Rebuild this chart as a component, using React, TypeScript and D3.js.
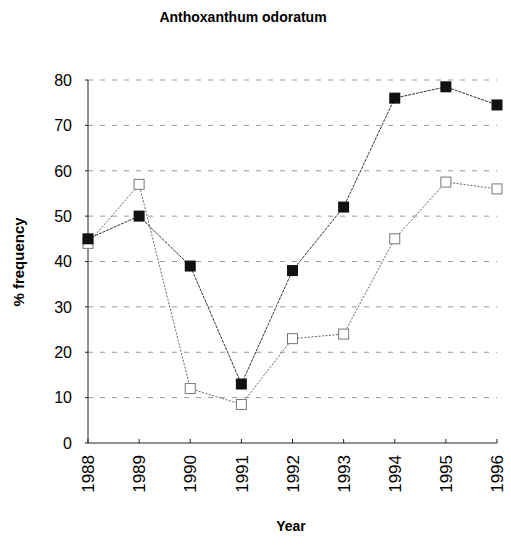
import * as d3 from 'd3'

// data
const years = [1988, 1989, 1990, 1991, 1992, 1993, 1994, 1995, 1996]
const filledSeries = [45, 50, 39, 13, 38, 52, 76, 78.5, 74.5]
const openSeries = [44, 57, 12, 8.5, 23, 24, 45, 57.5, 56]
const yTicks = [0, 10, 20, 30, 40, 50, 60, 70, 80]

const width = 511,
    height = 546
const margin = { top: 80, right: 14, bottom: 103, left: 88 }

export default function App() {
    const x = d3.scaleLinear()
        .domain([1988, 1996])
        .range([margin.left, width - margin.right])
    const y = d3.scaleLinear()
        .domain([0, 80])
        .range([height - margin.bottom, margin.top])

    const line = d3.line<number>()
        .x((d, i) => x(years[i]))
        .y(d => y(d))

    const font = 'Liberation Sans, Arial, sans-serif'
    const ms = 11 // marker size

    return (
        <svg width={width} height={height} style={{ position: 'absolute', left: 0, top: 0, background: '#fff' }}>
            {/* title */}
            <text x={243} y={22} textAnchor="middle" fontFamily={font} fontWeight="bold" fontSize={14}>
                Anthoxanthum odoratum
            </text>

            {/* gridlines */}
            {yTicks.filter(t => t > 0).map(t => (
                <line key={t} x1={x(1988)} x2={x(1996)} y1={y(t)} y2={y(t)}
                    stroke="#999" strokeWidth={1} strokeDasharray="5,7" />
            ))}

            {/* axes */}
            <line x1={x(1988)} x2={x(1988)} y1={y(0)} y2={y(80)} stroke="#222" strokeWidth={1} />
            <line x1={x(1988)} x2={x(1996)} y1={y(0)} y2={y(0)} stroke="#222" strokeWidth={1} />
            {yTicks.map(t => (
                <g key={t}>
                    <line x1={x(1988) - 3} x2={x(1988)} y1={y(t)} y2={y(t)} stroke="#222" />
                    <text x={72} y={y(t)} dy="0.36em" textAnchor="end" fontFamily={font} fontSize={16}>{t}</text>
                </g>
            ))}
            {years.map(yr => (
                <g key={yr}>
                    <line x1={x(yr)} x2={x(yr)} y1={y(0)} y2={y(0) - 4} stroke="#222" />
                    <text transform={`translate(${x(yr)},455) rotate(-90)`} textAnchor="end" dy="0.36em"
                        fontFamily={font} fontSize={17}>{yr}</text>
                </g>
            ))}

            {/* axis titles */}
            <text x={291} y={531} textAnchor="middle" fontFamily={font} fontWeight="bold" fontSize={14}>Year</text>
            <text transform="translate(24,262) rotate(-90)" textAnchor="middle" fontFamily={font} fontWeight="bold" fontSize={15}>
                % frequency
            </text>

            {/* open series */}
            <path d={line(openSeries) || ''} fill="none" stroke="#666" strokeWidth={1} strokeDasharray="2,1.5" />
            {openSeries.map((v, i) => (
                <rect key={i} x={x(years[i]) - 5} y={y(v) - 5} width={10} height={10}
                    fill="#fff" stroke="#777" strokeWidth={1} />
            ))}

            {/* filled series */}
            <path d={line(filledSeries) || ''} fill="none" stroke="#333" strokeWidth={1} strokeDasharray="3,1" />
            {filledSeries.map((v, i) => (
                <rect key={i} x={x(years[i]) - ms / 2} y={y(v) - ms / 2} width={ms} height={ms} fill="#111" />
            ))}
        </svg>
    )
}
